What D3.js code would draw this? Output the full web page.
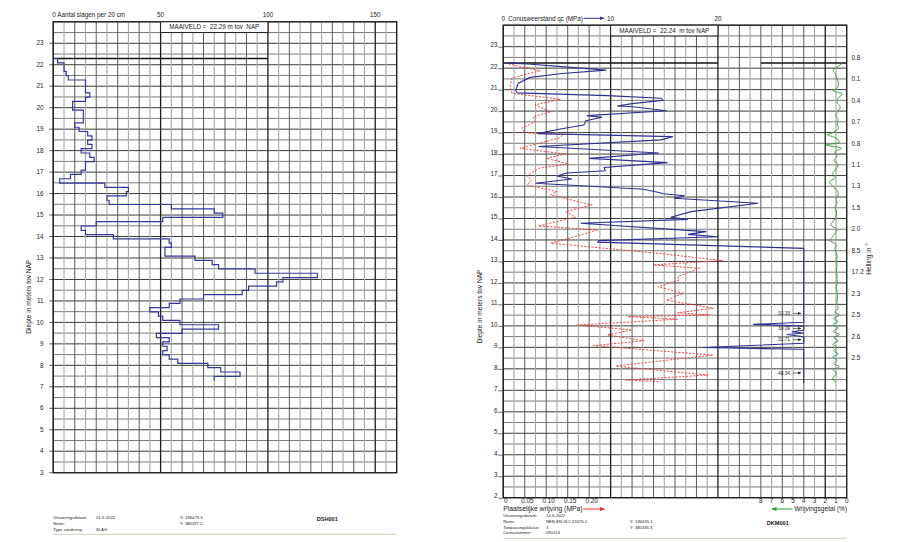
<!DOCTYPE html>
<html><head><meta charset="utf-8">
<script src="https://cdn.jsdelivr.net/npm/d3@7"></script>
<style>body{margin:0;background:#fff} text{font-family:"Liberation Sans",Arial,sans-serif;fill:#222}</style>
</head><body><svg id="c" width="900" height="542"></svg>
<script>
// ---------- DATA ----------
// Left: dynamic probing (slagen per 20 cm), from maaiveld downwards
const slagMaaiveld = 22.29;
const slagInterval = 0.2;
const slagValues = [2,5,5,6,7,15,15,15,17,15,9,9,14,14,14,10,12,16,18,16,18,13,17,19,15,15,13,8,3,24,35,34,25,26,55,75,79,51,20,13,15,28,54,55,52,52,66,74,77,94,123,107,104,91,88,70,59,54,45,49,51,59,77,60,48,54,51,53,51,54,58,72,78,87,75];
const slagTopTicks = [50, 100, 150];

// Right: CPT
const cptMaaiveld = 22.24;
const qcDepth = [22.24,22.19,22.05,21.91,21.75,21.57,21.3,20.98,20.85,20.72,20.6,20.5,20.35,20.24,20.2,20.02,19.79,19.71,19.55,19.35,19.17,18.95,18.81,18.66,18.35,18.05,17.8,17.6,17.38,17.22,17.12,16.98,16.84,16.64,16.36,16.2,16.15,16.06,15.94,15.71,15.32,15.06,14.96,14.78,14.39,14.26,14.15,13.97,13.9,13.61,10.17,10.07,9.99,9.81,9.73,9.67,9.6,9.5,9.19,8.99,8.91,7.33];
const qcValue = [0.1,2.3,6.0,9.6,5.5,2.5,1.4,1.15,1.3,9.7,14.7,14.9,12.0,10.6,12.1,15.2,7.8,9.2,7.7,7.5,5.3,3.2,15.8,14.7,3.3,14.5,8.0,15.3,9.4,9.5,5.9,5.0,6.4,3.0,13.1,14.6,14.9,16.9,15.9,23.75,17.5,15.6,17.2,7.2,18.9,17.2,20.0,8.9,8.8,28,28,23.3,28,28,26.9,28,26.4,28,28,18.6,28,28];
const fsDepth = [22.23,21.88,21.7,21.53,21.14,20.83,20.55,20.29,19.97,19.74,19.5,19.2,19.0,18.9,18.75,18.27,18.0,17.8,17.54,17.34,16.98,16.79,16.56,16.25,16.1,15.63,15.32,15.06,14.65,14.47,14.23,13.85,13.38,13.04,12.84,12.68,12.29,12.14,11.82,11.52,11.2,10.82,10.61,10.51,10.43,10.31,10.04,9.81,9.58,9.31,9.08,8.64,8.13,7.71,7.48,7.4];
const fsValue = [0.004,0.086,0.05,0.02,0.016,0.02,0.133,0.074,0.11,0.07,0.074,0.043,0.05,0.14,0.13,0.039,0.145,0.10,0.152,0.082,0.055,0.066,0.055,0.125,0.11,0.207,0.145,0.168,0.082,0.219,0.18,0.11,0.36,0.51,0.35,0.457,0.406,0.41,0.36,0.42,0.38,0.49,0.406,0.48,0.29,0.406,0.172,0.30,0.242,0.328,0.21,0.488,0.262,0.477,0.285,0.367];
const rfDepth = [22.22,22.05,21.9,21.7,21.5,21.3,21.1,20.95,20.8,20.6,20.4,20.2,20.0,19.8,19.6,19.4,19.2,19.0,18.9,18.75,18.55,18.42,18.27,18.1,17.9,17.7,17.5,17.3,17.1,16.9,16.7,16.5,16.3,16.1,15.9,15.7,15.5,15.3,15.1,14.9,14.7,14.5,14.3,14.1,13.97,13.8,13.6,13.4,13.2,13.0,12.8,12.6,12.4,12.2,12.0,11.8,11.6,11.4,11.2,11.0,10.8,10.65,10.5,10.35,10.2,10.05,9.9,9.75,9.6,9.45,9.3,9.15,9.0,8.85,8.7,8.55,8.4,8.25,8.1,7.95,7.8,7.65,7.5,7.4];
const rfValue = [0.4,0.9,1.25,1.0,0.9,0.75,0.85,1.25,0.4,0.8,0.9,0.6,0.8,1.0,0.8,0.9,0.75,1.3,1.8,1.0,0.7,1.9,0.5,1.1,0.9,1.2,0.8,1.0,1.3,1.1,1.6,1.3,0.9,0.8,1.0,0.9,1.1,0.95,1.0,1.2,1.5,0.9,1.1,1.4,1.6,1.0,1.1,0.95,0.9,0.95,0.9,0.95,0.9,0.9,0.9,0.95,0.9,0.85,0.9,0.9,0.8,1.1,0.7,1.2,0.8,1.3,0.8,1.25,0.7,1.2,0.8,1.3,0.9,1.2,0.8,1.3,0.9,1.2,0.7,1.3,0.9,1.2,1.3,1.0];
const overDepth = [10.58, 9.88, 9.36, 7.81];
const overLabel = ["33.33", "30.09", "32.71", "48.34"];
const hellingDepth = [22.5,21.5,20.5,19.5,18.5,17.5,16.5,15.5,14.5,13.5,12.5,11.5,10.5,9.5,8.5];
const hellingLabel = ["0.8","0.1","0.4","0.7","0.8","1.1","1.3","1.5","2.0","8.5","17.2","2.3","2.5","2.6","2.5"];
const fsTicks = [0, 0.05, 0.10, 0.15, 0.20];
const rfTicks = [8,7,6,5,4,3,2,1,0];

// ---------- LAYOUT ----------
const svg = d3.select("#c");
const FS = 6.3;
const L = {x0:53.3, x1:396.7, y0:21.8, y1:472.7};
const R = {x0:503.3, x1:846.7, y0:25.2, y1:497.7};
const xL = d3.scaleLinear([0,160],[L.x0,L.x1]);
const yL = d3.scaleLinear([3,24],[L.y1,L.y0]);
const xQ = d3.scaleLinear([0,32],[R.x0,R.x1]);
const xF = d3.scaleLinear([0,0.8],[R.x0,R.x1]);
const xR = d3.scaleLinear([0,8],[R.x1,xQ(24)]);
const yR = d3.scaleLinear([2,24],[R.y1,R.y0]);

svg.append("defs").html(
 '<marker id="ab" viewBox="0 0 10 10" refX="9" refY="5" markerWidth="5" markerHeight="5" orient="auto"><path d="M0,1L10,5L0,9z" fill="#2e3192"/></marker>'+
 '<marker id="ar" viewBox="0 0 10 10" refX="9" refY="5" markerWidth="5" markerHeight="5" orient="auto"><path d="M0,1L10,5L0,9z" fill="#e8302a"/></marker>'+
 '<marker id="ag" viewBox="0 0 10 10" refX="9" refY="5" markerWidth="5" markerHeight="5" orient="auto"><path d="M0,1L10,5L0,9z" fill="#2a9a2a"/></marker>'+
 '<marker id="ak" viewBox="0 0 10 10" refX="9" refY="5" markerWidth="6" markerHeight="6" orient="auto"><path d="M0,1L10,5L0,9z" fill="#222"/></marker>'+
 '<clipPath id="clipL"><rect x="'+L.x0+'" y="'+L.y0+'" width="'+(L.x1-L.x0)+'" height="'+(L.y1-L.y0)+'"/></clipPath>'+
 '<clipPath id="clipR"><rect x="'+R.x0+'" y="'+R.y0+'" width="'+(R.x1-R.x0)+'" height="'+(R.y1-R.y0)+'"/></clipPath>');

function grid(P, xs, ys, xVals, yVals, kind) {
  const g = svg.append("g");
  g.selectAll(".h").data(yVals).join("line")
    .attr("x1",P.x0).attr("x2",P.x1).attr("y1",d=>ys(d)).attr("y2",d=>ys(d))
    .attr("stroke", d=> Number.isInteger(d) ? "#3c3c3c" : "#5a5a5a")
    .attr("stroke-width", d=> Number.isInteger(d) ? 1 : 0.8);
  g.selectAll(".v").data(xVals).join("line")
    .attr("y1",P.y0).attr("y2",P.y1).attr("x1",d=>xs(d)).attr("x2",d=>xs(d))
    .attr("stroke", d=> kind(d)===2 ? "#1e1e1e" : kind(d)===1 ? "#4a4a4a" : "#a8a8a8")
    .attr("stroke-width", d=> kind(d)===2 ? 1.3 : kind(d)===1 ? 0.9 : 1.1);
  g.append("rect").attr("x",P.x0).attr("y",P.y0).attr("width",P.x1-P.x0).attr("height",P.y1-P.y0)
    .attr("fill","none").attr("stroke","#222").attr("stroke-width",1.3);
  return g;
}

// ===== LEFT PANEL =====
grid(L, xL, yL, d3.range(0,161,5), d3.range(3,24.01,0.5), v => v%50===0 ? 2 : v%10===0 ? 1 : 0);
const yTL = d3.range(3,24);
svg.append("g").selectAll("line").data(yTL).join("line")
  .attr("x1",L.x0-4).attr("x2",L.x0).attr("y1",d=>yL(d)).attr("y2",d=>yL(d)).attr("stroke","#333").attr("stroke-width",0.8);
svg.append("g").selectAll("text").data(yTL).join("text")
  .attr("x",43.5).attr("y",d=>yL(d)).attr("dy","0.35em").attr("text-anchor","end").attr("font-size",FS).text(d=>d);
svg.append("text").attr("transform",`translate(31,${yL(11.2)}) rotate(-90)`).attr("text-anchor","middle")
  .attr("font-size",6.6).text("Diepte in meters tov NAP");
svg.append("text").attr("x",L.x0-1).attr("y",15).attr("dy","0.35em").attr("font-size",FS).text("0 Aantal slagen per 20 cm");
svg.append("g").selectAll("text").data(slagTopTicks).join("text")
  .attr("x",d=>xL(d)).attr("y",15).attr("dy","0.35em").attr("text-anchor","middle").attr("font-size",FS).text(d=>d);
svg.append("rect").attr("x",xL(50)).attr("y",L.y0).attr("width",xL(100)-xL(50)).attr("height",yL(23.5)-L.y0)
  .attr("fill","#fff").attr("stroke","#222").attr("stroke-width",1);
svg.append("text").attr("x",(xL(50)+xL(100))/2).attr("y",(L.y0+yL(23.5))/2).attr("dy","0.35em").attr("text-anchor","middle")
  .attr("font-size",FS).attr("xml:space","preserve").text("MAAIVELD =  " + slagMaaiveld.toFixed(2) + " m tov  NAP");
svg.append("line").attr("x1",xL(0)).attr("x2",xL(100)).attr("y1",yL(slagMaaiveld)).attr("y2",yL(slagMaaiveld))
  .attr("stroke","#111").attr("stroke-width",1.4);
const stepPts = [[0, slagMaaiveld]];
slagValues.forEach((v,i)=>{
  const top = slagMaaiveld - i*slagInterval, bot = slagMaaiveld - (i+1)*slagInterval;
  stepPts.push([v, top]); stepPts.push([v, bot]);
});
svg.append("path").attr("clip-path","url(#clipL)")
  .attr("d", d3.line().x(d=>xL(d[0])).y(d=>yL(d[1]))(stepPts))
  .attr("fill","none").attr("stroke","#34389a").attr("stroke-width",1.2);
const fL = svg.append("g").attr("font-size",4.2);
[["Uitvoeringsdatum:","21-6-2022",517.7],["Norm:","",523.4],["Type sondering:","SLAG",529.1]].forEach(r=>{
  fL.append("text").attr("x",L.x0).attr("y",r[2]).attr("dy","0.35em").text(r[0]);
  fL.append("text").attr("x",96).attr("y",r[2]).attr("dy","0.35em").text(r[1]);
});
fL.append("text").attr("x",180).attr("y",517.7).attr("dy","0.35em").text("X: 186479.3");
fL.append("text").attr("x",180).attr("y",523.4).attr("dy","0.35em").text("Y: 380337.2");
svg.append("text").attr("x",316.7).attr("y",519).attr("dy","0.35em").attr("font-size",5.6).attr("font-weight","bold").text("DSH001");
svg.append("line").attr("x1",L.x0).attr("x2",L.x1).attr("y1",534.3).attr("y2",534.3).attr("stroke","#d8cdbb").attr("stroke-width",1);

// ===== RIGHT PANEL =====
grid(R, xQ, yR, d3.range(0,33,1), d3.range(2,24.01,0.5), v => v%10===0 ? 2 : v%2===0 ? 1 : 0);
const yTR = d3.range(2,24);
svg.append("g").selectAll("line").data(yTR).join("line")
  .attr("x1",R.x0-5).attr("x2",R.x0).attr("y1",d=>yR(d)+0.5).attr("y2",d=>yR(d)+0.5).attr("stroke","#333").attr("stroke-width",0.7);
svg.append("g").selectAll("text").data(yTR).join("text")
  .attr("x",497.5).attr("y",d=>yR(d)).attr("dy","0.12em").attr("text-anchor","end").attr("font-size",FS).text(d=>d);
svg.append("text").attr("transform",`translate(482,${yR(10.9)}) rotate(-90)`).attr("text-anchor","middle")
  .attr("font-size",6.6).text("Diepte in meters tov NAP");
svg.append("text").attr("x",xQ(0)).attr("y",18.3).attr("dy","0.35em").attr("text-anchor","middle").attr("font-size",FS).text("0");
svg.append("text").attr("x",508.3).attr("y",18.3).attr("dy","0.35em").attr("font-size",FS).text("Conusweerstand qc (MPa)");
svg.append("line").attr("x1",583.5).attr("x2",604).attr("y1",18.3).attr("y2",18.3).attr("stroke","#2e3192").attr("stroke-width",1).attr("marker-end","url(#ab)");
svg.append("g").selectAll("text").data([10,20]).join("text")
  .attr("x",d=>xQ(d)).attr("y",18.3).attr("dy","0.35em").attr("text-anchor","middle").attr("font-size",FS).text(d=>d);
svg.append("rect").attr("x",xQ(10)).attr("y",R.y0).attr("width",xQ(20)-xQ(10)).attr("height",yR(23.5)-R.y0)
  .attr("fill","#fff").attr("stroke","#222").attr("stroke-width",1);
svg.append("text").attr("x",(xQ(10)+xQ(20))/2).attr("y",(R.y0+yR(23.5))/2).attr("dy","0.35em").attr("text-anchor","middle")
  .attr("font-size",FS).attr("xml:space","preserve").text("MAAIVELD =  " + cptMaaiveld.toFixed(2) + "  m tov NAP");
svg.append("line").attr("x1",xQ(0)).attr("x2",xQ(20)).attr("y1",yR(cptMaaiveld)).attr("y2",yR(cptMaaiveld)).attr("stroke","#111").attr("stroke-width",1.4);
svg.append("line").attr("x1",xR(8)).attr("x2",xR(0)).attr("y1",yR(cptMaaiveld)).attr("y2",yR(cptMaaiveld)).attr("stroke","#111").attr("stroke-width",1.4);
svg.append("path").attr("clip-path","url(#clipR)")
  .attr("d", d3.line().x(d=>xF(fsValue[d])).y(d=>yR(fsDepth[d]))(d3.range(fsDepth.length)))
  .attr("fill","none").attr("stroke","#e8403a").attr("stroke-width",0.9).attr("stroke-dasharray","2.2,1.4");
svg.append("path").attr("clip-path","url(#clipR)")
  .attr("d", d3.line().x(d=>xQ(qcValue[d])).y(d=>yR(qcDepth[d]))(d3.range(qcDepth.length)))
  .attr("fill","none").attr("stroke","#2e3192").attr("stroke-width",1.1);
svg.append("path").attr("clip-path","url(#clipR)")
  .attr("d", d3.line().curve(d3.curveCatmullRom).x(d=>xR(rfValue[d])).y(d=>yR(rfDepth[d]))(d3.range(rfDepth.length)))
  .attr("fill","none").attr("stroke","#2f9a2f").attr("stroke-width",0.9);
const ov = svg.append("g");
overDepth.forEach((d,i)=>{
  ov.append("text").attr("x",790).attr("y",yR(d)).attr("dy","0.35em").attr("text-anchor","end").attr("font-size",4.8).text(overLabel[i]);
  ov.append("line").attr("x1",793).attr("x2",801).attr("y1",yR(d)).attr("y2",yR(d)).attr("stroke","#222").attr("stroke-width",0.6).attr("marker-end","url(#ak)");
});
svg.append("g").selectAll("text").data(hellingDepth).join("text")
  .attr("x",851.5).attr("y",d=>yR(d)).attr("dy","0.35em").attr("font-size",6.3).text((d,i)=>hellingLabel[i]);
svg.append("text").attr("transform","translate(870.5,259) rotate(-90)").attr("text-anchor","middle").attr("font-size",6.6).text("Helling in °");
svg.append("g").selectAll("text").data(fsTicks).join("text")
  .attr("x",d=>xF(d)+2.5).attr("y",501).attr("dy","0.35em").attr("text-anchor","middle").attr("font-size",6.3).text(d=> d===0 ? "0" : d.toFixed(2));
svg.append("g").selectAll("text").data(rfTicks).join("text")
  .attr("x",d=>xR(d)).attr("y",501).attr("dy","0.35em").attr("text-anchor","middle").attr("font-size",6.3).text(d=>d);
svg.append("text").attr("x",R.x0).attr("y",508.8).attr("dy","0.35em").attr("font-size",6.8).text("Plaatselijke wrijving (MPa)");
svg.append("line").attr("x1",583.3).attr("x2",604.5).attr("y1",509).attr("y2",509).attr("stroke","#e8302a").attr("stroke-width",1).attr("marker-end","url(#ar)");
svg.append("line").attr("x1",792.7).attr("x2",772).attr("y1",509).attr("y2",509).attr("stroke","#2a9a2a").attr("stroke-width",1).attr("marker-end","url(#ag)");
svg.append("text").attr("x",R.x1+0.5).attr("y",508.8).attr("dy","0.35em").attr("text-anchor","end").attr("font-size",6.6).text("Wrijvingsgetal (%)");
const fR = svg.append("g").attr("font-size",4.2);
[["Uitvoeringsdatum:","14-6-2022",516],["Norm:","NEN-EN-ISO 22476-1",521.7],["Toepassingsklasse:","3",527.3],["Conusnummer:","090124",533]].forEach(r=>{
  fR.append("text").attr("x",R.x0).attr("y",r[2]).attr("dy","0.35em").text(r[0]);
  fR.append("text").attr("x",546).attr("y",r[2]).attr("dy","0.35em").text(r[1]);
});
fR.append("text").attr("x",630).attr("y",521.7).attr("dy","0.35em").text("X: 186465.1");
fR.append("text").attr("x",630).attr("y",527.3).attr("dy","0.35em").text("Y: 380335.3");
svg.append("text").attr("x",766.7).attr("y",522.7).attr("dy","0.35em").attr("font-size",5.6).attr("font-weight","bold").text("DKM001");
svg.append("line").attr("x1",R.x0).attr("x2",R.x1).attr("y1",538.3).attr("y2",538.3).attr("stroke","#d8cdbb").attr("stroke-width",1);
</script></body></html>
